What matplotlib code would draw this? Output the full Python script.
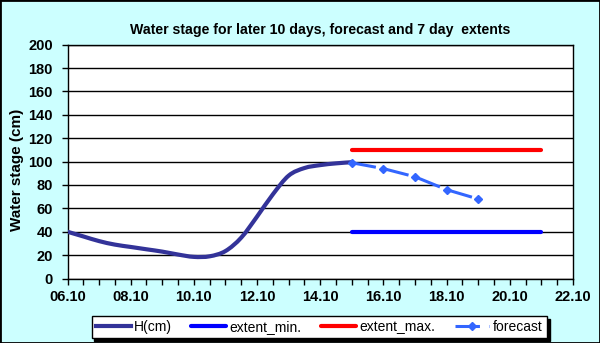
import matplotlib.pyplot as plt
from matplotlib.patches import Rectangle, PathPatch
from matplotlib.path import Path

plt.rcParams['font.family'] = ['Liberation Sans', 'DejaVu Sans']

# water stage, every 12 hours from 06.10 (day of October)
h_days = [6, 6.5, 7, 7.5, 8, 8.5, 9, 9.5, 10, 10.5, 11, 11.5, 12, 12.5,
          13, 13.5, 14, 14.5, 15]
h_cm = [40, 36, 32, 29, 27, 25, 23, 20.5, 18.5, 19, 23.5, 35, 53, 72,
        88, 94.5, 97, 98.5, 99.5]

fc_days = [15, 16, 17, 18, 19]
fc_cm = [99, 94, 87, 76, 68]

ext_days = [15, 21]
ext_min = [40, 40]
ext_max = [110, 110]

xtick_days = [6, 8, 10, 12, 14, 16, 18, 20, 22]
xtick_labels = ["06.10", "08.10", "10.10", "12.10", "14.10", "16.10",
                "18.10", "20.10", "22.10"]


def smooth_path(xs, ys):
    # cubic bezier through the points (catmull-rom tangents)
    pts = list(zip(xs, ys))
    verts = [pts[0]]
    codes = [Path.MOVETO]
    n = len(pts)
    for i in range(n - 1):
        p0 = pts[max(i - 1, 0)]
        p1 = pts[i]
        p2 = pts[i + 1]
        p3 = pts[min(i + 2, n - 1)]
        c1 = (p1[0] + (p2[0] - p0[0]) / 6, p1[1] + (p2[1] - p0[1]) / 6)
        c2 = (p2[0] - (p3[0] - p1[0]) / 6, p2[1] - (p3[1] - p1[1]) / 6)
        verts += [c1, c2, p2]
        codes += [Path.CURVE4] * 3
    return Path(verts, codes)


bg = "#ccffff"
fig = plt.figure(figsize=(6, 3.43), dpi=100, facecolor=bg)
ax = fig.add_axes([0.1125, 0.188, 0.8425, 0.6817])
ax.set_facecolor("white")

ax.add_patch(PathPatch(smooth_path(h_days, h_cm), fill=False,
                       edgecolor="#333399", lw=3, capstyle="round",
                       joinstyle="round", zorder=3))
ax.plot([], [], color="#333399", lw=3, label="H(cm)")
ax.plot(ext_days, ext_min, color="#0000ff", lw=3, solid_capstyle="round",
        label="extent_min.", zorder=3)
ax.plot(ext_days, ext_max, color="#ff0000", lw=3, solid_capstyle="round",
        label="extent_max.", zorder=3)
ax.plot(fc_days, fc_cm, color="#3366ff", lw=2.2, ls=(0, (8, 3)),
        marker="D", ms=4.5, label="forecast", zorder=4)

ax.set_xlim(6, 22)
ax.set_ylim(0, 200)
ax.set_yticks(range(0, 201, 20))
ax.set_xticks(xtick_days)
ax.set_xticklabels(xtick_labels)
ax.set_xticks([d / 2 for d in range(12, 45)], minor=True)
ax.grid(axis="y", color="black", lw=1)
ax.set_axisbelow(True)

for s in ax.spines.values():
    s.set_linewidth(1)
ax.tick_params(which="both", direction="out", length=4.5, width=1,
               colors="black")
ax.tick_params(axis="y", pad=6)
ax.tick_params(axis="x", pad=4)
for lbl in ax.get_xticklabels() + ax.get_yticklabels():
    lbl.set_fontsize(10.5)
    lbl.set_fontweight("bold")

ax.set_title("Water stage for later 10 days, forecast and 7 day  extents",
             fontsize=10.2, fontweight="bold", pad=8)
fig.text(17 / 600, 1 - 170 / 343, "Water stage (cm)", rotation=90,
         fontsize=11, fontweight="bold", ha="center", va="center")

leg = ax.legend(loc="lower center", bbox_to_anchor=(0.532, -0.006),
                bbox_transform=fig.transFigure, ncol=4, fontsize=10,
                frameon=True, fancybox=False, edgecolor="black",
                framealpha=1, handlelength=2.5, handletextpad=0.25,
                columnspacing=1.4, borderpad=0.3,
                shadow={"color": "black", "alpha": 1})
leg.get_frame().set_linewidth(1)

fig.patches.append(Rectangle((0, 0), 1, 1, transform=fig.transFigure,
                             fill=False, edgecolor="black", lw=2))

fig.savefig("out.png", dpi=100, facecolor=bg)
